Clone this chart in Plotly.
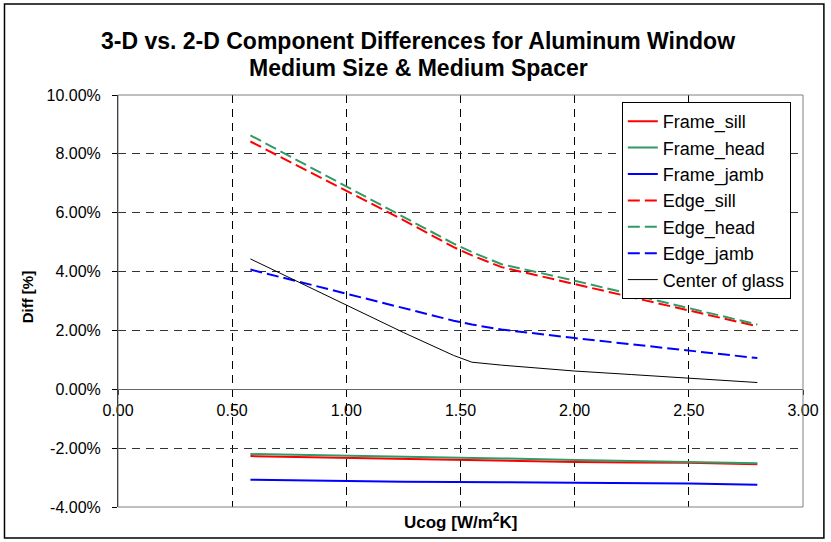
import plotly.graph_objects as go

# Ucog values
ucog = [0.58, 1.00, 1.25, 1.47, 1.55, 1.68, 2.00, 2.25, 2.50, 2.80]

# differences in percent
frame_sill = [-2.27, -2.33, -2.37, -2.40, -2.43, -2.44, -2.47, -2.49, -2.50, -2.55]
frame_head = [-2.20, -2.25, -2.29, -2.32, -2.34, -2.35, -2.40, -2.43, -2.46, -2.51]
frame_jamb = [-3.07, -3.12, -3.14, -3.15, -3.15, -3.16, -3.18, -3.19, -3.20, -3.24]
edge_sill = [8.42, 6.75, 5.75, 4.83, 4.55, 4.15, 3.58, 3.12, 2.68, 2.14]
edge_head = [8.63, 6.90, 5.88, 4.95, 4.66, 4.25, 3.69, 3.22, 2.77, 2.20]
edge_jamb = [4.07, 3.24, 2.75, 2.33, 2.20, 2.03, 1.74, 1.52, 1.30, 1.06]
center_glass = [4.43, 2.85, 1.93, 1.15, 0.92, 0.82, 0.62, 0.50, 0.37, 0.23]

x_ticks = [0, 0.5, 1.0, 1.5, 2.0, 2.5, 3.0]
y_ticks = [-4, -2, 0, 2, 4, 6, 8, 10]

RED = "#FF0000"
GREEN = "#339966"
BLUE = "#0000FF"
DASH = "12px,5px"

series = [
    ("Frame_sill", frame_sill, RED, "solid", 2),
    ("Frame_head", frame_head, GREEN, "solid", 2),
    ("Frame_jamb", frame_jamb, BLUE, "solid", 2),
    ("Edge_sill", edge_sill, RED, DASH, 2),
    ("Edge_head", edge_head, GREEN, DASH, 2),
    ("Edge_jamb", edge_jamb, BLUE, DASH, 2),
    ("Center of glass", center_glass, "#000000", "solid", 1),
]

fig = go.Figure()
for name, vals, color, dash, w in series:
    fig.add_trace(go.Scatter(
        x=ucog, y=vals, name=name, mode="lines",
        line=dict(color=color, dash=dash, width=w),
    ))

# plot area is 118..806 px wide, 95..507 px high
fig.update_layout(
    width=831, height=542,
    margin=dict(l=118, r=25, t=95, b=35),
    paper_bgcolor="white", plot_bgcolor="white",
    font=dict(family="Liberation Sans, Arial, sans-serif", size=16, color="black"),
    showlegend=True,
    legend=dict(
        x=0.7355, y=0.983, xanchor="left", yanchor="top",
        bordercolor="black", borderwidth=1, bgcolor="white",
        font=dict(size=18), itemwidth=30,
    ),
    xaxis=dict(
        range=[0, 3], tickvals=x_ticks, ticktext=[f"{v:.2f}" for v in x_ticks],
        anchor="free", position=4 / 14,
        showline=True, linecolor="#666666", linewidth=1,
        ticks="outside", ticklen=5, tickcolor="black", ticklabelstandoff=2,
        showgrid=True, gridcolor="black", griddash="8px,6px", gridwidth=1,
        zeroline=False,
    ),
    yaxis=dict(
        range=[-4, 10], tickvals=y_ticks, ticktext=[f"{v:.2f}%" for v in y_ticks],
        showline=True, linecolor="black", linewidth=1,
        ticks="outside", ticklen=5, tickcolor="black", ticklabelstandoff=8,
        showgrid=True, gridcolor="#333333", griddash="8px,6px", gridwidth=1,
        zeroline=False,
    ),
    shapes=[
        dict(type="rect", xref="paper", yref="paper", x0=0, x1=1, y0=0, y1=1,
             line=dict(color="#808080", width=1), layer="above"),
        dict(type="rect", xref="paper", yref="paper",
             x0=-0.1657, x1=1.0305, y0=-0.0752, y1=1.2209,
             line=dict(color="black", width=1.5)),
    ],
    annotations=[
        dict(text="<b>3-D vs. 2-D Component Differences for Aluminum Window</b>",
             xref="paper", yref="paper", x=0.438, y=1.132, xanchor="center", yanchor="middle",
             showarrow=False, font=dict(size=23)),
        dict(text="<b>Medium Size & Medium Spacer</b>",
             xref="paper", yref="paper", x=0.438, y=1.066, xanchor="center", yanchor="middle",
             showarrow=False, font=dict(size=23)),
        dict(text="<b>Diff [%]</b>", xref="paper", yref="paper", x=-0.1475, y=0.51,
             textangle=-90, showarrow=False, font=dict(size=15)),
        dict(text="<b>Ucog [W/m<sup>2</sup>K]</b>", xref="paper", yref="paper", x=0.5, y=-0.033,
             yanchor="middle", showarrow=False, font=dict(size=17)),
    ],
)

fig.write_html("out.html", post_script="document.body.style.margin='0';",
               config={"displayModeBar": False})
